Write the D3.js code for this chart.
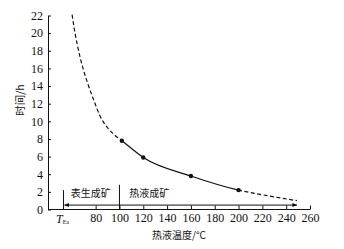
<!DOCTYPE html>
<html><head><meta charset="utf-8">
<script src="https://cdn.jsdelivr.net/npm/d3@7"></script>
<style>
html,body{margin:0;padding:0;background:#fff;}
svg{display:block;}
.num{font-family:"Liberation Serif","DejaVu Serif",serif;font-size:12px;fill:#111;}
.cjk{font-family:"Noto Sans CJK SC",sans-serif;fill:#111;}
</style></head>
<body>
<script>
// ---- data ----
const xTickValues = [80,100,120,140,160,180,200,220,240,260];
const yTickValues = [0,2,4,6,8,10,12,14,16,18,20,22];
const curveTemp = [60.2,62.7,65.2,69.4,73.6,78.7,83.7,90.4,96.3,102,120,160,200,225,249];
const curveHours = [22.1,20.0,18.3,16.0,14.2,12.3,10.6,9.2,8.4,7.8,5.9,3.8,2.2,1.55,1.0];
const pointTemp = [102,120,160,200];
const pointHours = [7.8,5.9,3.8,2.2];
const solidRange = [102,200];
const surfaceTemp = 53;      // T_Ea
const boundaryTemp = 100;
const arrowRange = [53,249];
const arrowLevel = [0.5];
const dividerHeights = [2.2,2.8];
const zoneLabels = ["表生成矿","热液成矿"];
const zoneCenters = [76,125];
const xTitle = "热液温度/°C";
const yTitle = "时间/h";

const W = 344, H = 249;
const svg = d3.select("body").append("svg").attr("width",W).attr("height",H);
const x = d3.scaleLinear().domain([40,260]).range([48,310]);
const y = d3.scaleLinear().domain([0,22]).range([209.5,15.5]);

// axes
const xAxis = d3.axisBottom(x).tickValues(xTickValues).tickSizeInner(-4).tickSizeOuter(0).tickPadding(4);
const gx = svg.append("g").attr("transform",`translate(0,${y(0)})`).call(xAxis);
gx.select(".domain").attr("d",`M${x(40)},0H${x(260)}`);
gx.selectAll("text").attr("class","num").attr("font-size",null).attr("font-family",null);

const yAxis = d3.axisLeft(y).tickValues(yTickValues).tickSizeInner(-3).tickSizeOuter(0).tickPadding(5);
const gy = svg.append("g").attr("transform",`translate(${x(40)},0)`).call(yAxis);
gy.selectAll("text").attr("class","num").attr("font-size",null).attr("font-family",null);
svg.selectAll(".domain, .tick line").attr("stroke","#111").attr("stroke-width",1);

// T_Ea label
const tl = svg.append("text").attr("class","num").attr("x",x(surfaceTemp)-1).attr("y",y(0)+13).attr("text-anchor","middle");
tl.append("tspan").attr("font-style","italic").text("T");
tl.append("tspan").attr("font-size","6px").attr("dy","1").text("Ea");

// divider lines
svg.append("line").attr("x1",x(surfaceTemp)).attr("x2",x(surfaceTemp)).attr("y1",y(0)).attr("y2",y(dividerHeights[0])).attr("stroke","#111");
svg.append("line").attr("x1",x(boundaryTemp)).attr("x2",x(boundaryTemp)).attr("y1",y(0)).attr("y2",y(dividerHeights[1])).attr("stroke","#111");

// double arrow
const defs = svg.append("defs");
defs.append("marker").attr("id","ah").attr("viewBox","0 0 10 10").attr("refX",9).attr("refY",5)
  .attr("markerWidth",7).attr("markerHeight",5).attr("orient","auto-start-reverse")
  .append("path").attr("d","M0,1L10,5L0,9Z").attr("fill","#111");
svg.append("line").attr("x1",x(arrowRange[0])+1).attr("x2",x(arrowRange[1])).attr("y1",y(arrowLevel[0])).attr("y2",y(arrowLevel[0]))
  .attr("stroke","#111").attr("stroke-width",1).attr("marker-start","url(#ah)").attr("marker-end","url(#ah)");

// zone labels
zoneLabels.forEach((t,i)=>{
  svg.append("text").attr("class","cjk").attr("font-size","10px").attr("x",x(zoneCenters[i])).attr("y",y(0)-12.5)
    .attr("text-anchor","middle").text(t);
});

// curve with clipping
const pts = curveTemp.map((t,i)=>[t,curveHours[i]]);
const line = d3.line().x(d=>x(d[0])).y(d=>y(d[1])).curve(d3.curveMonotoneX);
const pathD = line(pts);
defs.append("clipPath").attr("id","cSolid").append("rect").attr("x",x(solidRange[0])).attr("y",0).attr("width",x(solidRange[1])-x(solidRange[0])).attr("height",H);
defs.append("clipPath").attr("id","cL").append("rect").attr("x",0).attr("y",0).attr("width",x(solidRange[0])).attr("height",H);
defs.append("clipPath").attr("id","cR").append("rect").attr("x",x(solidRange[1])).attr("y",0).attr("width",W).attr("height",H);
svg.append("path").attr("d",pathD).attr("fill","none").attr("stroke","#111").attr("stroke-width",1.2).attr("clip-path","url(#cSolid)");
svg.append("path").attr("d",pathD).attr("fill","none").attr("stroke","#111").attr("stroke-width",1.2).attr("stroke-dasharray","4,2.5").attr("clip-path","url(#cL)");
svg.append("path").attr("d",pathD).attr("fill","none").attr("stroke","#111").attr("stroke-width",1.2).attr("stroke-dasharray","4,2.5").attr("clip-path","url(#cR)");

// points
svg.selectAll("circle.pt").data(pointTemp.map((t,i)=>[t,pointHours[i]])).enter().append("circle")
  .attr("class","pt").attr("cx",d=>x(d[0])).attr("cy",d=>y(d[1])).attr("r",2.2).attr("fill","#111");

// titles
svg.append("text").attr("class","cjk").attr("font-size","10px").attr("x",179).attr("y",239).attr("text-anchor","middle").text(xTitle);
svg.append("text").attr("class","cjk").attr("font-size","10.5px").attr("transform","translate(24,100) rotate(-90)").attr("text-anchor","middle").text(yTitle);
</script>
</body></html>
